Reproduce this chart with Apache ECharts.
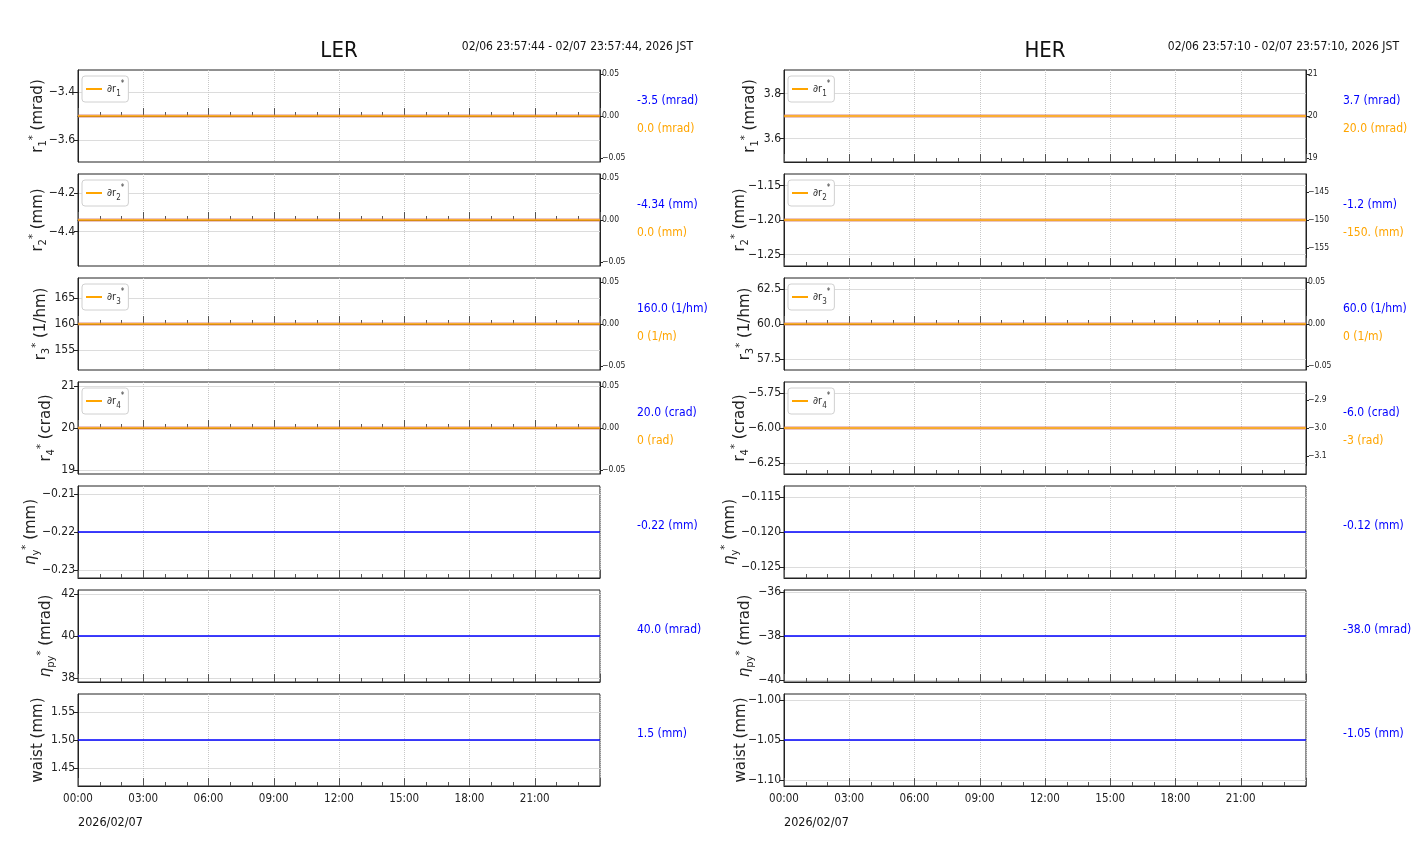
<!DOCTYPE html>
<html><head><meta charset="utf-8">
<script src="https://cdn.jsdelivr.net/npm/echarts@6/dist/echarts.min.js"></script>
<style>html,body{margin:0;padding:0;background:#fff}#c{width:1412px;height:864px}</style>
</head><body><div id="c"></div>
<script>
// ---------------- data ----------------
const hours = [0, 4, 8, 12, 16, 20, 24];
const xTickLabels = ['00:00','03:00','06:00','09:00','12:00','15:00','18:00','21:00'];
const dateLabel = '2026/02/07';
const titles = ['LER', 'HER'];
const timeRanges = ['02/06 23:57:44 - 02/07 23:57:44, 2026 JST', '02/06 23:57:10 - 02/07 23:57:10, 2026 JST'];

// LER
const lerR1 = [-3.5, -3.5, -3.5, -3.5, -3.5, -3.5, -3.5];
const lerDr1 = [0, 0, 0, 0, 0, 0, 0];
const lerR2 = [-4.34, -4.34, -4.34, -4.34, -4.34, -4.34, -4.34];
const lerDr2 = [0, 0, 0, 0, 0, 0, 0];
const lerR3 = [160, 160, 160, 160, 160, 160, 160];
const lerDr3 = [0, 0, 0, 0, 0, 0, 0];
const lerR4 = [20, 20, 20, 20, 20, 20, 20];
const lerDr4 = [0, 0, 0, 0, 0, 0, 0];
const lerEtaY = [-0.22, -0.22, -0.22, -0.22, -0.22, -0.22, -0.22];
const lerEtaPy = [40, 40, 40, 40, 40, 40, 40];
const lerWaist = [1.5, 1.5, 1.5, 1.5, 1.5, 1.5, 1.5];

// HER
const herR1 = [3.7, 3.7, 3.7, 3.7, 3.7, 3.7, 3.7];
const herDr1 = [20, 20, 20, 20, 20, 20, 20];
const herR2 = [-1.2, -1.2, -1.2, -1.2, -1.2, -1.2, -1.2];
const herDr2 = [-150, -150, -150, -150, -150, -150, -150];
const herR3 = [60, 60, 60, 60, 60, 60, 60];
const herDr3 = [0, 0, 0, 0, 0, 0, 0];
const herR4 = [-6.0, -6.0, -6.0, -6.0, -6.0, -6.0, -6.0];
const herDr4 = [-3, -3, -3, -3, -3, -3, -3];
const herEtaY = [-0.12, -0.12, -0.12, -0.12, -0.12, -0.12, -0.12];
const herEtaPy = [-38, -38, -38, -38, -38, -38, -38];
const herWaist = [-1.05, -1.05, -1.05, -1.05, -1.05, -1.05, -1.05];

// left axis extents / ticks
const lerLeftMin = [-3.6925, -4.5787, 151.2, 18.9, -0.2321, 37.8, 1.4175];
const lerLeftMax = [-3.3075, -4.1013, 168.8, 21.1, -0.2079, 42.2, 1.5825];
const lerLeftTicks = [[-3.6, -3.4], [-4.4, -4.2], [155, 160, 165], [19, 20, 21], [-0.23, -0.22, -0.21], [38, 40, 42], [1.45, 1.5, 1.55]];
const lerLeftDecimals = [1, 1, 0, 0, 2, 0, 2];
const herLeftMin = [3.4965, -1.2667, 56.7, -6.33, -0.1266, -40.09, -1.10775];
const herLeftMax = [3.9035, -1.1333, 63.3, -5.67, -0.1134, -35.91, -0.99225];
const herLeftTicks = [[3.6, 3.8], [-1.25, -1.2, -1.15], [57.5, 60, 62.5], [-6.25, -6.0, -5.75], [-0.125, -0.12, -0.115], [-40, -38, -36], [-1.1, -1.05, -1.0]];
const herLeftDecimals = [1, 2, 1, 2, 3, 0, 2];

// right axis extents / ticks (rows 1-4)
const lerRightMin = [-0.055, -0.055, -0.055, -0.055];
const lerRightMax = [0.055, 0.055, 0.055, 0.055];
const lerRightTicks = [[-0.05, 0, 0.05], [-0.05, 0, 0.05], [-0.05, 0, 0.05], [-0.05, 0, 0.05]];
const lerRightDecimals = [2, 2, 2, 2];
const herRightMin = [18.9, -158.25, -0.055, -3.165];
const herRightMax = [21.1, -141.75, 0.055, -2.835];
const herRightTicks = [[19, 20, 21], [-155, -150, -145], [-0.05, 0, 0.05], [-3.1, -3.0, -2.9]];
const herRightDecimals = [0, 0, 2, 1];

// text readouts
const lerBlueText = ['-3.5 (mrad)', '-4.34 (mm)', '160.0 (1/hm)', '20.0 (crad)', '-0.22 (mm)', '40.0 (mrad)', '1.5 (mm)'];
const lerOrangeText = ['0.0 (mrad)', '0.0 (mm)', '0 (1/m)', '0 (rad)'];
const herBlueText = ['3.7 (mrad)', '-1.2 (mm)', '60.0 (1/hm)', '-6.0 (crad)', '-0.12 (mm)', '-38.0 (mrad)', '-1.05 (mm)'];
const herOrangeText = ['20.0 (mrad)', '-150. (mm)', '0 (1/m)', '-3 (rad)'];

// axis names (rich text)
const yNames = [
  '{a|r}{sub|1}{sup|*}{a| (mrad)}',
  '{a|r}{sub|2}{sup|*}{a| (mm)}',
  '{a|r}{sub|3}{sup|*}{a| (1/hm)}',
  '{a|r}{sub|4}{sup|*}{a| (crad)}',
  '{g|η}{sub|y}{sup|*}{a| (mm)}',
  '{g|η}{sub|py}{sup|*}{a| (mrad)}',
  '{a|waist (mm)}'
];
const legendNames = ['∂r1*', '∂r2*', '∂r3*', '∂r4*'];
const legendRich = ['{a|∂r}{sub|1}{sup|*}', '{a|∂r}{sub|2}{sup|*}', '{a|∂r}{sub|3}{sup|*}', '{a|∂r}{sub|4}{sup|*}'];

// ---------------- layout ----------------
const NARROW = "'DejaVu Sans Condensed','DejaVu Sans',sans-serif";
const NORMAL = "'DejaVu Sans',sans-serif";
const colLeft = [78, 784];
const colWidth = 522;
const rowTop0 = 70, rowH = 92, rowStep = 104;
const nameCenters = [[38, 38, 41, 46, 31, 46, 38], [750, 740, 745, 740, 730, 745, 741]];
const BLUE = '#0000ff', ORANGE = '#ffa500';

const cols = [
  { main: [lerR1, lerR2, lerR3, lerR4, lerEtaY, lerEtaPy, lerWaist], dr: [lerDr1, lerDr2, lerDr3, lerDr4],
    lmin: lerLeftMin, lmax: lerLeftMax, lt: lerLeftTicks, ld: lerLeftDecimals,
    rmin: lerRightMin, rmax: lerRightMax, rt: lerRightTicks, rd: lerRightDecimals,
    blue: lerBlueText, orange: lerOrangeText },
  { main: [herR1, herR2, herR3, herR4, herEtaY, herEtaPy, herWaist], dr: [herDr1, herDr2, herDr3, herDr4],
    lmin: herLeftMin, lmax: herLeftMax, lt: herLeftTicks, ld: herLeftDecimals,
    rmin: herRightMin, rmax: herRightMax, rt: herRightTicks, rd: herRightDecimals,
    blue: herBlueText, orange: herOrangeText }
];

function fmt(v, d) {
  let s = Number(v).toFixed(d);
  if (/^-0(\.0+)?$/.test(s)) s = s.slice(1);
  return s.replace('-', '\u2212');
}
function pairs(xs, ys) { return xs.map((x, i) => [x, ys[i]]); }

const nameRich = {
  a: { fontFamily: NORMAL, fontSize: 15, color: '#222', lineHeight: 20 },
  g: { fontFamily: NORMAL, fontSize: 15, fontStyle: 'italic', color: '#222', lineHeight: 20 },
  sub: { fontFamily: NORMAL, fontSize: 10, color: '#222', verticalAlign: 'bottom', lineHeight: 20 },
  sup: { fontFamily: NORMAL, fontSize: 10, color: '#222', verticalAlign: 'top', lineHeight: 20 }
};
const legRich = {
  a: { fontFamily: NARROW, fontSize: 11, color: '#333', lineHeight: 18 },
  sub: { fontFamily: NARROW, fontSize: 8, color: '#333', verticalAlign: 'bottom', lineHeight: 18 },
  sup: { fontFamily: NARROW, fontSize: 8, color: '#333', verticalAlign: 'top', lineHeight: 18 }
};

const grid = [], xAxis = [], yAxis = [], series = [], legend = [], graphic = [];

cols.forEach((c, ci) => {
  const left = colLeft[ci];
  for (let r = 0; r < 7; r++) {
    const top = rowTop0 + r * rowStep;
    const gi = grid.length;
    grid.push({ left: left, top: top, width: colWidth, height: rowH, show: true, borderColor: '#222', borderWidth: 1, backgroundColor: 'transparent' });
    xAxis.push({
      type: 'value', gridIndex: gi, min: 0, max: 24, interval: 3,
      axisLine: { show: true, lineStyle: { color: '#222' } },
      axisTick: { show: true, inside: true, length: 8, lineStyle: { color: '#555' } },
      minorTick: { show: true, splitNumber: 3, length: 4, lineStyle: { color: '#555' } },
      splitLine: { show: true, lineStyle: { color: '#c8c8c8', type: 'dotted' } },
      axisLabel: { show: r === 6, showMaxLabel: false, fontFamily: NARROW, fontSize: 11.5, color: '#222', margin: 7,
        formatter: v => xTickLabels[Math.round(v / 3)] || '' }
    });
    const dec = c.ld[r];
    const yi = yAxis.length;
    yAxis.push({
      type: 'value', gridIndex: gi, position: 'left', min: c.lmin[r], max: c.lmax[r],
      axisLine: { show: true, lineStyle: { color: '#222' } },
      axisTick: { show: true, inside: false, length: 4, customValues: c.lt[r], lineStyle: { color: '#222' } },
      axisLabel: { show: true, customValues: c.lt[r], fontFamily: NARROW, fontSize: 12, color: '#222', margin: 3,
        formatter: v => fmt(v, dec) },
      splitLine: { show: true, lineStyle: { color: '#dcdcdc', width: 1 } },
      name: yNames[r], nameLocation: 'middle', nameRotate: 90, nameMoveOverlap: false,
      nameGap: left - nameCenters[ci][r] - 10,
      nameTextStyle: { rich: nameRich }
    });
    const cy = top + rowH / 2;
    if (r < 4) {
      const rdec = c.rd[r];
      const ri = yAxis.length;
      yAxis.push({
        type: 'value', gridIndex: gi, position: 'right', min: c.rmin[r], max: c.rmax[r],
        axisLine: { show: true, lineStyle: { color: '#222' } },
        axisTick: { show: true, inside: false, length: 3, customValues: c.rt[r], lineStyle: { color: '#222' } },
        axisLabel: { show: true, customValues: c.rt[r], fontFamily: NARROW, fontSize: 8.5, color: '#222', margin: 2,
          formatter: v => fmt(v, rdec) },
        splitLine: { show: false }
      });
      series.push({
        type: 'line', name: 'main' + ci + r, xAxisIndex: gi, yAxisIndex: yi, data: pairs(hours, c.main[r]),
        symbol: 'none', silent: true, lineStyle: { color: 'rgba(200,110,110,0.4)', width: 4 }
      });
      series.push({
        type: 'line', name: legendNames[r], xAxisIndex: gi, yAxisIndex: ri, data: pairs(hours, c.dr[r]),
        symbol: 'none', silent: true, color: ORANGE, lineStyle: { color: ORANGE, width: 1.5 }
      });
      legend.push({
        data: [legendNames[r]], left: left + 4, top: top + 6, orient: 'vertical',
        icon: 'rect', itemWidth: 16, itemHeight: 2, padding: [4, 4, 4, 4], itemGap: 4,
        borderColor: '#d0d0d0', borderWidth: 1, borderRadius: 3, backgroundColor: '#fff',
        formatter: () => legendRich[r], textStyle: { rich: legRich }, selectedMode: false
      });
      graphic.push({ type: 'text', x: left + colWidth + 37, y: cy - 15,
        style: { text: c.blue[r], fill: BLUE, font: '12px ' + NARROW, textVerticalAlign: 'middle' } });
      graphic.push({ type: 'text', x: left + colWidth + 37, y: cy + 13,
        style: { text: c.orange[r], fill: ORANGE, font: '12px ' + NARROW, textVerticalAlign: 'middle' } });
    } else {
      series.push({
        type: 'line', name: 'main' + ci + r, xAxisIndex: gi, yAxisIndex: yi, data: pairs(hours, c.main[r]),
        symbol: 'none', silent: true, lineStyle: { color: BLUE, width: 1.5 }
      });
      graphic.push({ type: 'text', x: left + colWidth + 37, y: cy - 6,
        style: { text: c.blue[r], fill: BLUE, font: '12px ' + NARROW, textVerticalAlign: 'middle' } });
    }
  }
  graphic.push({ type: 'text', x: left + colWidth / 2, y: 51,
    style: { text: titles[ci], fill: '#111', font: '22px ' + NARROW, textAlign: 'center', textVerticalAlign: 'middle' } });
  graphic.push({ type: 'text', x: left + colWidth + 93, y: 47,
    style: { text: timeRanges[ci], fill: '#111', font: '12px ' + NARROW, textAlign: 'right', textVerticalAlign: 'middle' } });
  graphic.push({ type: 'text', x: left, y: 823,
    style: { text: dateLabel, fill: '#111', font: '12.5px ' + NARROW, textAlign: 'left', textVerticalAlign: 'middle' } });
});

const chart = echarts.init(document.getElementById('c'), null, { renderer: 'canvas' });
chart.setOption({
  animation: false,
  backgroundColor: '#fff',
  grid, xAxis, yAxis, series, legend, graphic
});
</script>
</body></html>
